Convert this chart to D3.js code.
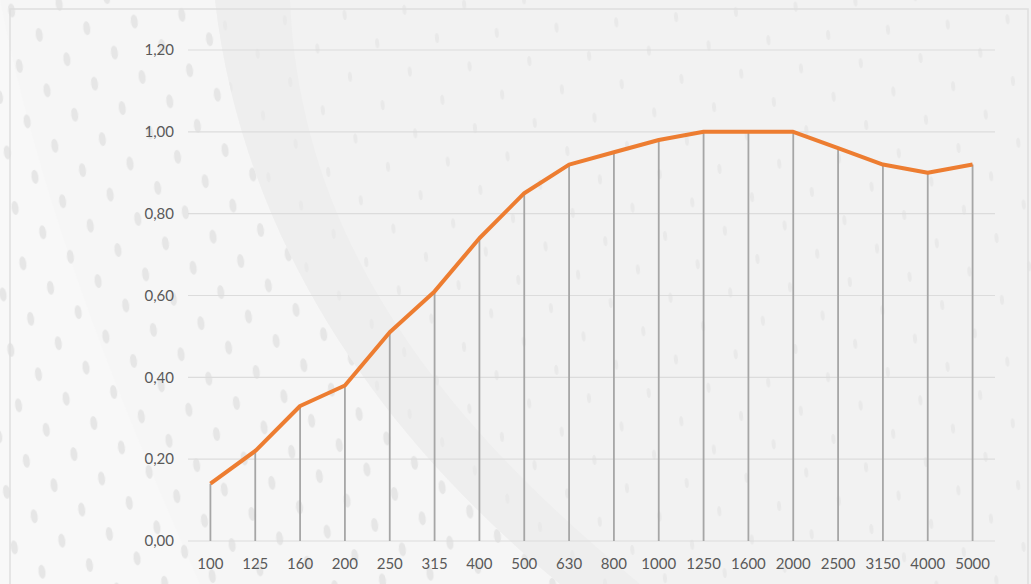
<!DOCTYPE html>
<html><head><meta charset="utf-8">
<script src="https://cdn.jsdelivr.net/npm/d3@7"></script>
<style>body{margin:0;background:#f1f1f1;overflow:hidden}</style>
</head><body><svg id="c" width="1031" height="584"></svg>
<script>
const categories = ["100","125","160","200","250","315","400","500","630","800","1000","1250","1600","2000","2500","3150","4000","5000"];
const values = [0.14,0.22,0.33,0.38,0.51,0.61,0.74,0.85,0.92,0.95,0.98,1.00,1.00,1.00,0.96,0.92,0.90,0.92];
const yTicks = [0,0.2,0.4,0.6,0.8,1.0,1.2];

const W=1031,H=584;
const svg=d3.select("#c");
const defs=svg.append("defs");
const pat=defs.append("pattern").attr("id","dots").attr("patternUnits","userSpaceOnUse")
  .attr("width",48).attr("height",56).attr("patternTransform","rotate(-8)");
pat.append("ellipse").attr("cx",10).attr("cy",12).attr("rx",3.5).attr("ry",7).attr("fill","#e6e6e6");
pat.append("ellipse").attr("cx",34).attr("cy",40).attr("rx",3.5).attr("ry",7).attr("fill","#e6e6e6");
const pat2=defs.append("pattern").attr("id","dots2").attr("patternUnits","userSpaceOnUse")
  .attr("width",60).attr("height",62).attr("patternTransform","rotate(-5)");
pat2.append("ellipse").attr("cx",12).attr("cy",14).attr("rx",2).attr("ry",5).attr("fill","#e9e9e9");
pat2.append("ellipse").attr("cx",42).attr("cy",45).attr("rx",2).attr("ry",5).attr("fill","#e9e9e9");
defs.append("clipPath").attr("id","leftc").append("path").attr("d","M0,0 L215,0 C240,220 360,420 560,584 L0,584 Z");
defs.append("clipPath").attr("id","rightc").append("path").attr("d","M215,0 C240,220 360,420 560,584 L1031,584 L1031,0 Z");

// background
svg.append("rect").attr("width",W).attr("height",H).attr("fill","#f2f2f2");
svg.append("path").attr("d","M0,0 L215,0 C240,220 360,420 560,584 L0,584 Z").attr("fill","#f6f6f6");
svg.append("path").attr("d","M0,0 C40,200 110,380 200,584 L0,584 Z").attr("fill","#f8f8f8");
svg.append("path").attr("d","M215,0 C240,220 360,420 560,584 L640,584 C440,420 300,240 290,0 Z").attr("fill","#eeeeee");
svg.append("rect").attr("width",W).attr("height",H).attr("fill","url(#dots)").attr("clip-path","url(#leftc)");
svg.append("rect").attr("width",W).attr("height",H).attr("fill","url(#dots2)").attr("clip-path","url(#rightc)");
svg.append("rect").attr("x",10).attr("y",9).attr("width",1018).attr("height",580).attr("fill","none").attr("stroke","#dedede").attr("stroke-width",1.5);

const m={l:188,r:995,t:50,b:541};
const x=d3.scaleBand().domain(categories).range([m.l,m.r]);
const y=d3.scaleLinear().domain([0,1.2]).range([m.b,m.t]);
const fmt=d=>d3.format(".2f")(d).replace(".",",");

const g=svg.append("g");
g.selectAll(".grid").data(yTicks).join("line")
  .attr("x1",m.l).attr("x2",m.r).attr("y1",d=>y(d)).attr("y2",d=>y(d))
  .attr("stroke","#dcdcdc").attr("stroke-width",1.2);

const yAxis=g.append("g").attr("transform",`translate(${m.l-14},0)`)
  .call(d3.axisLeft(y).tickValues(yTicks).tickFormat(fmt).tickSize(0).tickPadding(0));
yAxis.select(".domain").remove();
yAxis.selectAll("text").attr("fill","#595959").style("font-family","Lato,sans-serif").style("font-size","15px");

const xAxis=g.append("g").attr("transform",`translate(0,${m.b+23})`)
  .call(d3.axisBottom(x).tickSize(0).tickPadding(0));
xAxis.select(".domain").remove();
xAxis.selectAll("text").attr("fill","#595959").attr("dy","0.32em").style("font-family","Lato,sans-serif").style("font-size","15px");

const cx=d=>x(d)+x.bandwidth()/2;
g.selectAll(".drop").data(categories).join("line")
  .attr("x1",(d)=>cx(d)).attr("x2",(d)=>cx(d))
  .attr("y1",(d,i)=>y(values[i])).attr("y2",y(0))
  .attr("stroke","#a6a6a6").attr("stroke-width",1.8);

g.append("path").datum(values)
  .attr("d",d3.line().x((d,i)=>cx(categories[i])).y(d=>y(d)))
  .attr("fill","none").attr("stroke","#ED7D31").attr("stroke-width",4).attr("stroke-linejoin","round");
</script></body></html>
